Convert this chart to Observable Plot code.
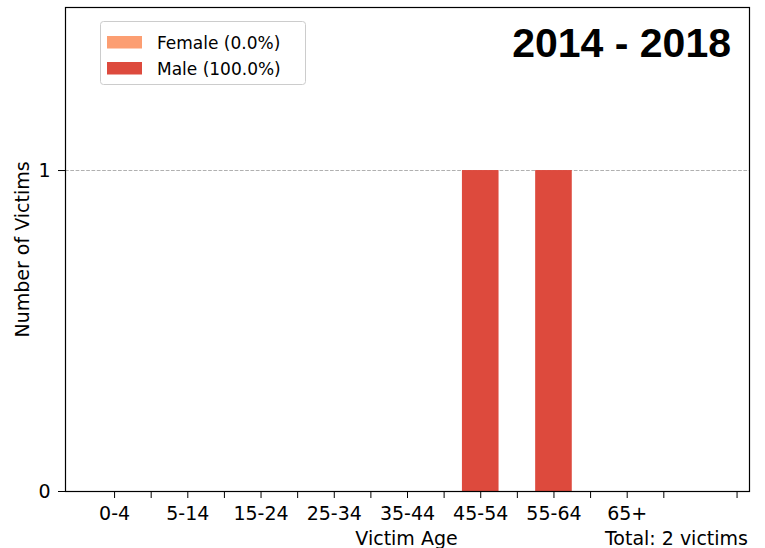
<!DOCTYPE html>
<html><head><meta charset="utf-8">
<script src="https://cdn.jsdelivr.net/npm/d3@7"></script>
<script src="https://cdn.jsdelivr.net/npm/@observablehq/plot@0.6"></script>
<style>
body{margin:0;background:#fff}
#chart{position:relative;width:765px;height:548px}
</style>
</head><body><div id="chart"></div>
<script>
const ageGroups = ["0-4","5-14","15-24","25-34","35-44","45-54","55-64","65+"];
const femaleCounts = [0,0,0,0,0,0,0,0];
const maleCounts = [0,0,0,0,0,1,1,0];
const sexes = ["Female","Male"];
const sexColors = ["#fc9e72","#dd4a3d"];
const yTicks = [0,1];
const edgeTicks = [0.5,1.5,2.5,3.5,4.5,5.5,6.5,7.5,8.5];
const periodTitle = "2014 - 2018";
const xLabel = "Victim Age";
const yLabel = "Number of Victims";

const rows = [];
ageGroups.forEach((g,i)=>{
  const f=femaleCounts[i], m=maleCounts[i];
  if (f>0) rows.push({i, sex:"Female", y1:0, y2:f});
  if (m>0) rows.push({i, sex:"Male", y1:f, y2:f+m});
});
const totalF = d3.sum(femaleCounts), totalM = d3.sum(maleCounts), total = totalF + totalM;
const labeledTicks = ageGroups.map((_, i)=>i);

const svg = Plot.plot({
  width:765, height:548, marginLeft:65, marginRight:16, marginTop:7, marginBottom:57,
  style:{fontFamily:"'DejaVu Sans', sans-serif", fontSize:"19px", color:"#000", background:"#fff"},
  x:{type:"linear", domain:[-0.67,8.67]},
  y:{domain:[0,1.508]},
  color:{domain:sexes, range:sexColors},
  marks:[
    Plot.ruleY(yTicks.filter(d=>d>0), {stroke:"#b0b0b0", strokeDasharray:"3.7,1.6", strokeWidth:1.1}),
    Plot.rectY(rows, {x1:d=>d.i-0.25, x2:d=>d.i+0.25, y1:"y1", y2:"y2", fill:"sex"}),
    Plot.axisY({ticks:yTicks, tickSize:7, tickPadding:8, tickFormat:d=>String(d), label:null, fontSize:19}),
    Plot.axisX({ticks:labeledTicks, tickSize:7, tickPadding:8, tickFormat:i=>ageGroups[i], label:null, fontSize:19}),
    Plot.axisX({ticks:edgeTicks, tickSize:7, tickFormat:()=>"", label:null}),
    Plot.frame({stroke:"#000", strokeWidth:1.2})
  ]
});
document.getElementById("chart").appendChild(svg);

const s = d3.select(svg);
const fam = "'DejaVu Sans', sans-serif";
s.append("text").attr("transform","translate(29,249.5) rotate(-90)")
  .attr("text-anchor","middle").attr("font-family",fam).attr("font-size",19).attr("fill","#000").text(yLabel);
s.append("text").attr("x",406.5).attr("y",545).attr("text-anchor","middle")
  .attr("font-family",fam).attr("font-size",19).attr("fill","#000").text(xLabel);
s.append("text").attr("x",748).attr("y",545).attr("text-anchor","end")
  .attr("font-family",fam).attr("font-size",19).attr("fill","#000").text(`Total: ${total} victims`);
s.append("text").attr("x",731).attr("y",57).attr("text-anchor","end")
  .attr("font-family","'Liberation Sans', Arial, sans-serif").attr("font-weight","bold")
  .attr("font-size",41).attr("fill","#000").text(periodTitle);

const lg = s.append("g");
lg.append("rect").attr("x",100.5).attr("y",21.5).attr("width",205).attr("height",63).attr("rx",3)
  .attr("fill","#fff").attr("fill-opacity",0.8).attr("stroke","#cccccc").attr("stroke-width",1);
const pct = d3.format(".1%");
const shares = [total ? totalF/total : 0, total ? totalM/total : 0];
sexes.forEach((sx,k)=>{
  const y0 = 36 + k*26;
  lg.append("rect").attr("x",107).attr("y",y0).attr("width",35).attr("height",12.5).attr("fill",sexColors[k]);
  lg.append("text").attr("x",157).attr("y",y0+12.5).attr("text-anchor","start").attr("font-family",fam).attr("font-size",17)
    .attr("fill","#000").text(`${sx} (${pct(shares[k])})`);
});
</script>
</body></html>
